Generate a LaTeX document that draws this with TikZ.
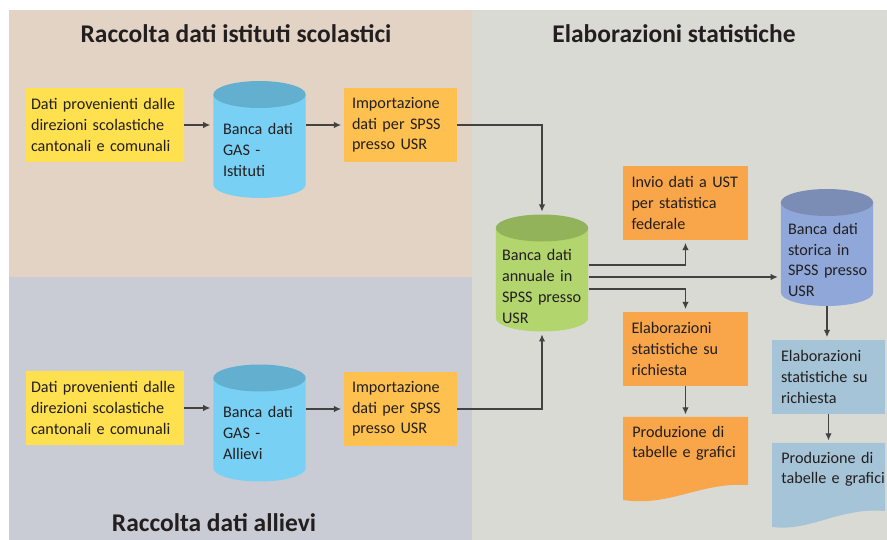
\documentclass[tikz,border=0pt]{standalone}
\usepackage{fontspec}
\setmainfont{Carlito}
\usetikzlibrary{positioning,arrows.meta}

\definecolor{panelA}{HTML}{E2D3C4}
\definecolor{panelB}{HTML}{C9CCD4}
\definecolor{panelC}{HTML}{D9DAD4}
\definecolor{giallo}{HTML}{FFE04E}
\definecolor{arancio}{HTML}{FEC04E}
\definecolor{aranciob}{HTML}{F9A549}
\definecolor{azzurro}{HTML}{78D1F5}
\definecolor{azzurrotop}{HTML}{63AFCF}
\definecolor{verde}{HTML}{B3D56E}
\definecolor{verdetop}{HTML}{93B35A}
\definecolor{blu}{HTML}{8FA8D9}
\definecolor{blutop}{HTML}{7B8DB5}
\definecolor{celeste}{HTML}{A6C4D7}
\definecolor{testo}{HTML}{231F20}

\begin{document}
\begin{tikzpicture}[x=0.02cm, y=-0.02cm, >={Latex[length=4pt,width=3.6pt]},
  every node/.style={text=testo, font=\fontsize{9.2}{11.8}\selectfont},
  box/.style={rectangle, inner sep=0pt, align=left, minimum height=1.48cm},
  doc/.style={rectangle, inner xsep=0.18cm, inner ysep=0.17cm, align=left, anchor=north west, text width=2.3cm},
  cyl/.style 2 args={rectangle, minimum width=1.85cm, minimum height=2.34cm, inner sep=0pt,
    path picture={
      \fill[#1] ([yshift=-0.27cm]path picture bounding box.north west)
        -- ([yshift=0.27cm]path picture bounding box.south west)
        arc[start angle=180, end angle=360, x radius=0.925cm, y radius=0.27cm]
        -- ([yshift=-0.27cm]path picture bounding box.north east) -- cycle;
      \fill[#2] ([yshift=-0.27cm]path picture bounding box.north) ellipse [x radius=0.925cm, y radius=0.27cm];
    }},
  cyltext/.style={align=left, inner sep=0pt, text width=1.7cm},
  titolo/.style={font=\fontsize{14.5}{17}\selectfont\bfseries},
  conn/.style={draw=testo!85, line width=0.6pt, shorten >=1.5pt}]

  \useasboundingbox (0,0) rectangle (887,540);
  \fill[white] (0,0) rectangle (887,540);

  % pannelli
  \fill[panelA] (9,10) rectangle (472,277);
  \fill[panelB] (9,277) rectangle (472,540);
  \fill[panelC] (472,10) rectangle (887,540);

  \node[titolo] (tit1) at (236,33.5) {Raccolta dati istituti scolastici};
  \node[titolo] (tit2) at (674,33.5) {Elaborazioni statistiche};
  \node[titolo] (tit3) at (214,522.5) {Raccolta dati allievi};

  % raccolta istituti
  \node[box, fill=giallo, minimum width=3.16cm, text width=2.96cm] (dati1) at (105,125) {Dati provenienti dalle\\direzioni scolastiche\\cantonali e comunali};
  \node[cyl={azzurro}{azzurrotop}] (gas1) at (259.5,139.5) {};
  \node[cyltext] (gas1t) at ([xshift=0.12cm, yshift=-0.21cm]gas1.center) {Banca dati\\GAS -\\Istituti};
  \node[box, fill=arancio, minimum width=2.26cm, text width=1.94cm] (imp1) at (400.5,125) {Importazione\\dati per SPSS\\presso USR};

  % raccolta allievi
  \node[box, fill=giallo, minimum width=3.16cm, text width=2.96cm] (dati2) at (105,408) {Dati provenienti dalle\\direzioni scolastiche\\cantonali e comunali};
  \node[cyl={azzurro}{azzurrotop}] (gas2) at (259.5,423) {};
  \node[cyltext] (gas2t) at ([xshift=0.12cm, yshift=-0.2cm]gas2.center) {Banca dati\\GAS -\\Allievi};
  \node[box, fill=arancio, minimum width=2.26cm, text width=1.94cm] (imp2) at (400.5,409) {Importazione\\dati per SPSS\\presso USR};

  % elaborazioni
  \node[cyl={verde}{verdetop}] (annuale) at (542,273) {};
  \node[cyltext] (annualet) at ([xshift=0.05cm, yshift=-0.27cm]annuale.center) {Banca dati\\annuale in\\SPSS presso\\USR};
  \node[box, fill=aranciob, minimum width=2.5cm, text width=2.16cm] (invio) at (685.5,203) {Invio dati a UST\\per statistica\\federale};
  \node[box, fill=aranciob, minimum width=2.5cm, text width=2.16cm] (elab1) at (685.5,349) {Elaborazioni\\statistiche su\\richiesta};
  \fill[aranciob] (623,417) -- (748,417) -- (748,485) .. controls (700,482) and (670,507) .. (623,500) -- cycle;
  \node[doc] (prod1) at (623,417) {Produzione di\\tabelle e grafici};

  \node[cyl={blu}{blutop}] (storica) at (827,247.5) {};
  \node[cyltext] (storicat) at ([xshift=0.07cm, yshift=-0.25cm]storica.center) {Banca dati\\storica in\\SPSS presso\\USR};
  \node[box, fill=celeste, minimum width=2.26cm, text width=1.9cm] (elab2) at (828.5,377) {Elaborazioni\\statistiche su\\richiesta};
  \fill[celeste] (772,443) -- (885,443) -- (885,511) .. controls (840,507) and (810,532) .. (772,527) -- cycle;
  \node[doc] (prod2) at (772,443) {Produzione di\\tabelle e grafici};

  % frecce
  \draw[conn, ->] (dati1.east) -- (dati1.east -| gas1.west);
  \draw[conn, ->] (gas1.east |- imp1.west) -- (imp1.west);
  \draw[conn, ->] (imp1.east) -| (annuale.north);
  \draw[conn, ->] (dati2.east) -- (dati2.east -| gas2.west);
  \draw[conn, ->] (gas2.east |- imp2.west) -- (imp2.west);
  \draw[conn, ->] (imp2.east) -| (annuale.south);

  \coordinate (g1) at ([yshift=0.16cm]annuale.east);
  \coordinate (g2) at ([yshift=-0.08cm]annuale.east);
  \coordinate (g3) at ([yshift=-0.32cm]annuale.east);
  \draw[conn, ->] (g1) -| (invio);
  \draw[conn, ->] (g2) -- (g2 -| storica.west);
  \draw[conn, ->] (g3) -| (elab1);
  \draw[conn, ->] (elab1) -- (elab1 |- prod1.north);
  \draw[conn, ->] (storica.south) -- (storica.south |- elab2.north);
  \draw[conn, ->] (elab2) -- (elab2 |- prod2.north);
\end{tikzpicture}
\end{document}
